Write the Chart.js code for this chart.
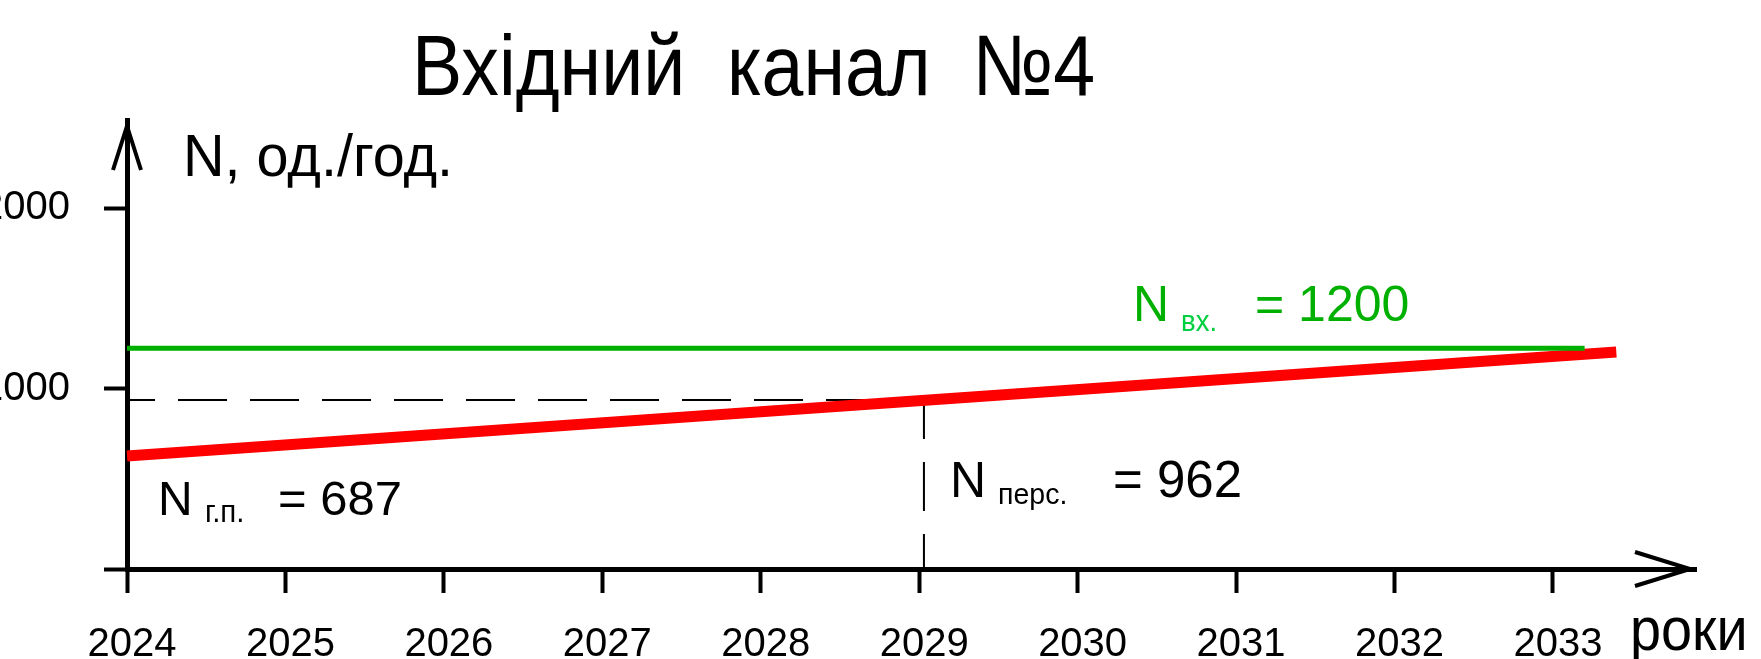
<!DOCTYPE html>
<html>
<head>
<meta charset="utf-8">
<script src="https://cdn.jsdelivr.net/npm/chart.js@4.4.1/dist/chart.umd.min.js"></script>
<style>
  html, body { margin: 0; padding: 0; background: #fff; overflow: hidden; }
  #wrap { position: absolute; left: 0; top: 0; width: 1761px; height: 659px; }
</style>
</head>
<body>
<div id="wrap"><canvas id="c" width="1761" height="659"></canvas></div>
<script>
// ---- data ----
const years = [2024, 2025, 2026, 2027, 2028, 2029, 2030, 2031, 2032, 2033];
const yTickValues = [0, 1000, 2000];
const yTickLabels = ['', '1000', '2000'];

const redX = [2024, 2033.4];        // N перс. trend line
const redY = [626, 1202];
const greenX = [2024, 2033.2];      // N вх. capacity line
const greenY = [1223, 1223];
const guideHX = [2024, 2029.03];    // dashed guide to 2029
const guideHY = [936, 936];
const guideVX = [2029.03, 2029.03];
const guideVY = [936, 0];

const titleText = 'Вхідний  канал  №4';
const yAxisName = 'N, од./год.';
const xAxisName = 'роки';
const labelGP = { main: 'N', sub: 'г.п.', value: '= 687' };
const labelPers = { main: 'N', sub: 'перс.', value: '= 962' };
const labelVx = { main: 'N', sub: 'вх.', value: '= 1200' };

const FONT = "'Liberation Sans', Arial, sans-serif";
const toPts = (xs, ys) => xs.map((x, i) => ({ x: x, y: ys[i] }));

const annotate = {
  id: 'annotate',
  afterDraw(chart) {
    const ctx = chart.ctx;
    const xs = chart.scales.x, ys = chart.scales.y;
    ctx.save();
    // axis arrows
    ctx.strokeStyle = '#000';
    ctx.lineWidth = 4;
    ctx.lineJoin = 'miter';
    const ax = xs.left, ay = ys.top + 6;
    ctx.beginPath();
    ctx.moveTo(ax - 14, ay + 44); ctx.lineTo(ax, ay); ctx.lineTo(ax + 14, ay + 44);
    ctx.stroke();
    const bx = xs.right - 6, by = ys.bottom;
    ctx.beginPath();
    ctx.moveTo(bx - 55, by - 17); ctx.lineTo(bx, by); ctx.lineTo(bx - 55, by + 17);
    ctx.stroke();

    const t = (s, x, y, size, color, sx) => {
      ctx.save();
      ctx.translate(x, y);
      ctx.scale(sx || 1, 1);
      ctx.font = size + 'px ' + FONT;
      ctx.fillStyle = color;
      ctx.textBaseline = 'alphabetic';
      ctx.textAlign = 'left';
      ctx.fillText(s, 0, 0);
      ctx.restore();
    };
    t(titleText, 412, 95, 86, '#000', 0.875);
    t(yAxisName, 183, 176, 60, '#000', 0.96);
    t(xAxisName, 1630, 650, 62, '#000', 0.9);

    t(labelGP.main, 158, 515, 48, '#000');
    t(labelGP.sub, 205, 522, 31, '#000', 0.95);
    t(labelGP.value, 278, 515, 49, '#000');

    t(labelPers.main, 950, 497, 50, '#000');
    t(labelPers.sub, 998, 504, 30, '#000', 0.95);
    t(labelPers.value, 1113, 497, 51, '#000');

    t(labelVx.main, 1133, 321, 50, '#00b000');
    t(labelVx.sub, 1181, 331, 29, '#00d040', 0.95);
    t(labelVx.value, 1255, 321, 50, '#00b000');
    ctx.restore();
  }
};

new Chart(document.getElementById('c'), {
  type: 'line',
  data: {
    datasets: [
      { data: toPts(greenX, greenY), borderColor: '#00b000', borderWidth: 5, pointRadius: 0, borderCapStyle: 'butt', clip: false },
      { data: toPts(redX, redY), borderColor: '#ff0000', borderWidth: 11, pointRadius: 0, borderCapStyle: 'butt', clip: false },
      { data: toPts(guideHX, guideHY), borderColor: '#000', borderWidth: 2, borderDash: [49, 23], borderDashOffset: 21, pointRadius: 0, clip: false },
      { data: toPts(guideVX, guideVY), borderColor: '#000', borderWidth: 2, borderDash: [49, 23], borderDashOffset: 10, pointRadius: 0, clip: false }
    ]
  },
  options: {
    responsive: false,
    animation: false,
    events: [],
    layout: { padding: { top: 120, right: 65, left: 0, bottom: 0 } },
    plugins: { legend: { display: false }, tooltip: { enabled: false }, title: { display: false } },
    scales: {
      x: {
        type: 'linear',
        min: 2024,
        max: 2033.903,
        afterBuildTicks: s => { s.ticks = years.map(v => ({ value: v })); },
        afterFit: s => { s.height = 90; },
        grid: { drawOnChartArea: false, drawTicks: true, tickLength: 24, tickWidth: 4, tickColor: '#000' },
        border: { display: true, color: '#000', width: 5 },
        ticks: {
          color: '#000', font: { family: FONT, size: 40 }, padding: 28, labelOffset: 5,
          maxRotation: 0, autoSkip: false,
          callback: v => String(v)
        }
      },
      y: {
        type: 'linear',
        min: 0,
        max: 2488,
        afterBuildTicks: s => { s.ticks = yTickValues.map(v => ({ value: v })); },
        afterFit: s => { s.width = 127; },
        grid: { drawOnChartArea: false, drawTicks: true, tickLength: 23, tickWidth: 4, tickColor: '#000' },
        border: { display: true, color: '#000', width: 5 },
        ticks: {
          color: '#000', font: { family: FONT, size: 40 }, padding: 34,
          callback: v => yTickLabels[yTickValues.indexOf(v)]
        }
      }
    }
  },
  plugins: [annotate]
});
</script>
</body>
</html>
